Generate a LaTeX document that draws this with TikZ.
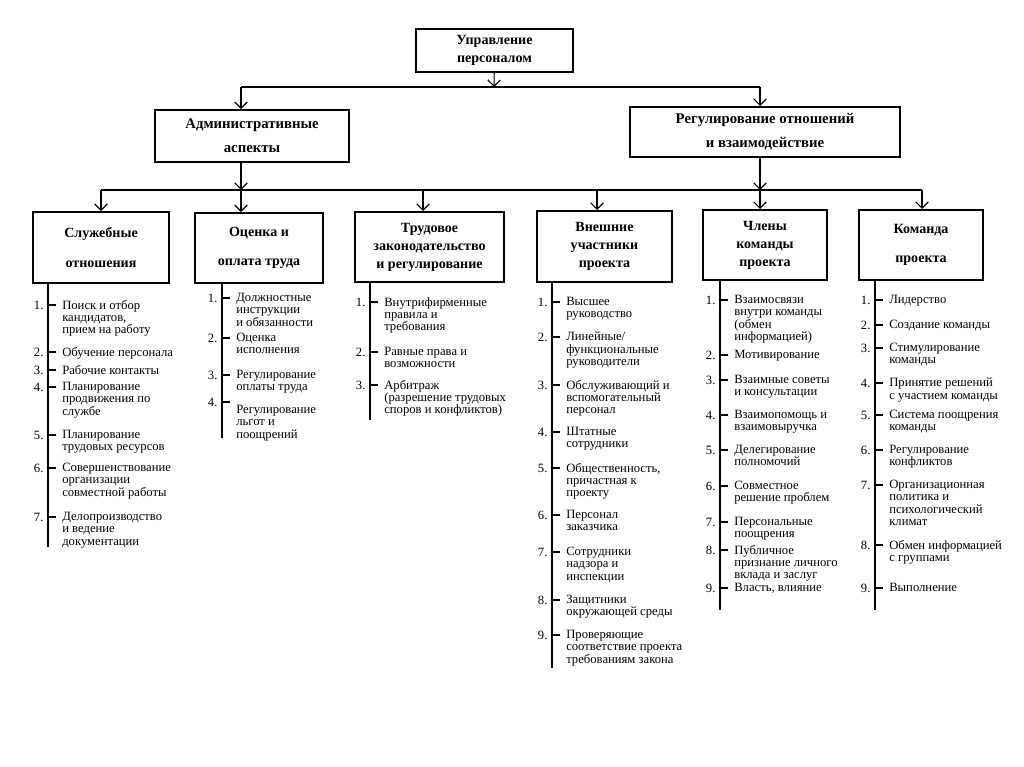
\documentclass[tikz,border=0pt]{standalone}
\usepackage{fontspec}
\setmainfont{Liberation Serif}
\usetikzlibrary{arrows.meta}

\begin{document}
\begin{tikzpicture}
  [x=0.025cm,y=-0.025cm,
   line/.style={line width=0.8pt},
   arr/.style={line,-{Straight Barb[length=4.5pt,width=9pt]}},
   box/.style={draw,line width=1.4pt,align=center,inner sep=0pt,fill=white},
   hdr/.style={box,font=\bfseries\fontsize{10}{12.8}\selectfont},
   hdrtwo/.style={box,font=\bfseries\fontsize{10}{21}\selectfont},
   item/.style={anchor=north west,inner sep=0pt,align=left,font=\fontsize{9}{8.7}\selectfont},
   num/.style={anchor=east,inner sep=0pt,xshift=-0.1cm,font=\fontsize{9}{9}\selectfont}]

  \useasboundingbox (0,0) rectangle (1024,767);

  % upper levels
  \node[hdr,minimum width=3.925cm,minimum height=1.075cm] (top) at (494.5,50.5) {Управление\\персоналом};
  \node[box,font=\bfseries\fontsize{10.5}{17}\selectfont,minimum width=4.85cm,minimum height=1.3cm] (adm) at (252,136) {Административные\\аспекты};
  \node[box,font=\bfseries\fontsize{10.5}{17}\selectfont,minimum width=6.75cm,minimum height=1.25cm] (reg) at (765,132) {Регулирование отношений\\и взаимодействие};

  % lower level boxes
  \node[hdrtwo,minimum width=3.4cm,minimum height=1.775cm] (sl) at (101,247.5) {Служебные\\отношения};
  \node[hdrtwo,minimum width=3.2cm,minimum height=1.75cm] (oc) at (259,248) {Оценка и\\оплата труда};
  \node[hdr,minimum width=3.725cm,minimum height=1.75cm] (tr) at (429.5,247) {Трудовое\\законодательство\\и регулирование};
  \node[hdr,minimum width=3.375cm,minimum height=1.775cm] (vn) at (604.5,246.5) {Внешние\\участники\\проекта};
  \node[hdr,minimum width=3.1cm,minimum height=1.75cm] (ch) at (765,245) {Члены\\команды\\проекта};
  \node[hdrtwo,minimum width=3.1cm,minimum height=1.75cm] (km) at (921,245) {Команда\\проекта};

  % connectors
  \coordinate (j1) at (494,87);
  \coordinate (h1l) at (241,87);
  \coordinate (h1r) at (760,87);
  \draw[arr] (top) -- (j1);
  \draw[line] (h1l) -- (h1r);
  \draw[arr] (h1l) -- (adm.north -| h1l);
  \draw[arr] (h1r) -- (reg.north -| h1r);

  \coordinate (d1) at (101,190);
  \coordinate (d2) at (241,190);
  \coordinate (d3) at (423,190);
  \coordinate (d4) at (597,190);
  \coordinate (d5) at (760,190);
  \coordinate (d6) at (922,190);
  \draw[arr] (adm.south -| d2) -- (d2);
  \draw[arr] (reg.south -| d5) -- (d5);
  \draw[line] (d1) -- (d6);
  \draw[arr] (d1) -- (sl.north -| d1);
  \draw[arr] (d2) -- (oc.north -| d2);
  \draw[arr] (d3) -- (tr.north -| d3);
  \draw[arr] (d4) -- (vn.north -| d4);
  \draw[arr] (d5) -- (ch.north -| d5);
  \draw[arr] (d6) -- (km.north -| d6);

  % column lines
  \coordinate (e1) at (48,547);
  \coordinate (e2) at (222,438);
  \coordinate (e3) at (370,420);
  \coordinate (e4) at (552,668);
  \coordinate (e5) at (720,610);
  \coordinate (e6) at (875,610);
  \draw[line] (sl.south -| e1) -- (e1);
  \draw[line] (oc.south -| e2) -- (e2);
  \draw[line] (tr.south -| e3) -- (e3);
  \draw[line] (vn.south -| e4) -- (e4);
  \draw[line] (ch.south -| e5) -- (e5);
  \draw[line] (km.south -| e6) -- (e6);

  % column 1
  \node[item] (sl1) at (62,300) {Поиск и отбор\\кандидатов,\\прием на работу};
  \draw[line] (sl1.north west) ++(-14,5) node[num] (sl1n) {1.} -- ++(8,0);
  \node[item] (sl2) at (62,347) {Обучение персонала};
  \draw[line] (sl2.north west) ++(-14,5) node[num] (sl2n) {2.} -- ++(8,0);
  \node[item] (sl3) at (62,365) {Рабочие контакты};
  \draw[line] (sl3.north west) ++(-14,5) node[num] (sl3n) {3.} -- ++(8,0);
  \node[item] (sl4) at (62,382) {Планирование\\продвижения по\\службе};
  \draw[line] (sl4.north west) ++(-14,5) node[num] (sl4n) {4.} -- ++(8,0);
  \node[item] (sl5) at (62,430) {Планирование\\трудовых ресурсов};
  \draw[line] (sl5.north west) ++(-14,5) node[num] (sl5n) {5.} -- ++(8,0);
  \node[item] (sl6) at (62,463) {Совершенствование\\организации\\совместной работы};
  \draw[line] (sl6.north west) ++(-14,5) node[num] (sl6n) {6.} -- ++(8,0);
  \node[item] (sl7) at (62,512) {Делопроизводство\\и ведение\\документации};
  \draw[line] (sl7.north west) ++(-14,5) node[num] (sl7n) {7.} -- ++(8,0);

  % column 2
  \node[item] (oc1) at (236,293) {Должностные\\инструкции\\и обязанности};
  \draw[line] (oc1.north west) ++(-14,5) node[num] (oc1n) {1.} -- ++(8,0);
  \node[item] (oc2) at (236,333) {Оценка\\исполнения};
  \draw[line] (oc2.north west) ++(-14,5) node[num] (oc2n) {2.} -- ++(8,0);
  \node[item] (oc3) at (236,370) {Регулирование\\оплаты труда};
  \draw[line] (oc3.north west) ++(-14,5) node[num] (oc3n) {3.} -- ++(8,0);
  \node[item] (oc4) at (236,405) {Регулирование\\льгот и\\поощрений};
  \draw[line] (oc4.north west) ++(-14,-3) node[num] (oc4n) {4.} -- ++(8,0);

  % column 3
  \node[item] (tr1) at (384,297) {Внутрифирменные\\правила и\\требования};
  \draw[line] (tr1.north west) ++(-14,5) node[num] (tr1n) {1.} -- ++(8,0);
  \node[item] (tr2) at (384,347) {Равные права и\\возможности};
  \draw[line] (tr2.north west) ++(-14,5) node[num] (tr2n) {2.} -- ++(8,0);
  \node[item] (tr3) at (384,380) {Арбитраж\\(разрешение трудовых\\споров и конфликтов)};
  \draw[line] (tr3.north west) ++(-14,5) node[num] (tr3n) {3.} -- ++(8,0);

  % column 4
  \node[item] (vn1) at (566,297) {Высшее\\руководство};
  \draw[line] (vn1.north west) ++(-14,5) node[num] (vn1n) {1.} -- ++(8,0);
  \node[item] (vn2) at (566,332) {Линейные/\\функциональные\\руководители};
  \draw[line] (vn2.north west) ++(-14,5) node[num] (vn2n) {2.} -- ++(8,0);
  \node[item] (vn3) at (566,380) {Обслуживающий и\\вспомогательный\\персонал};
  \draw[line] (vn3.north west) ++(-14,5) node[num] (vn3n) {3.} -- ++(8,0);
  \node[item] (vn4) at (566,427) {Штатные\\сотрудники};
  \draw[line] (vn4.north west) ++(-14,5) node[num] (vn4n) {4.} -- ++(8,0);
  \node[item] (vn5) at (566,463) {Общественность,\\причастная к\\проекту};
  \draw[line] (vn5.north west) ++(-14,5) node[num] (vn5n) {5.} -- ++(8,0);
  \node[item] (vn6) at (566,510) {Персонал\\заказчика};
  \draw[line] (vn6.north west) ++(-14,5) node[num] (vn6n) {6.} -- ++(8,0);
  \node[item] (vn7) at (566,547) {Сотрудники\\надзора и\\инспекции};
  \draw[line] (vn7.north west) ++(-14,5) node[num] (vn7n) {7.} -- ++(8,0);
  \node[item] (vn8) at (566,595) {Защитники\\окружающей среды};
  \draw[line] (vn8.north west) ++(-14,5) node[num] (vn8n) {8.} -- ++(8,0);
  \node[item] (vn9) at (566,630) {Проверяющие\\соответствие проекта\\требованиям закона};
  \draw[line] (vn9.north west) ++(-14,5) node[num] (vn9n) {9.} -- ++(8,0);

  % column 5
  \node[item] (ch1) at (734,295) {Взаимосвязи\\внутри команды\\(обмен\\информацией)};
  \draw[line] (ch1.north west) ++(-14,5) node[num] (ch1n) {1.} -- ++(8,0);
  \node[item] (ch2) at (734,350) {Мотивирование};
  \draw[line] (ch2.north west) ++(-14,5) node[num] (ch2n) {2.} -- ++(8,0);
  \node[item] (ch3) at (734,375) {Взаимные советы\\и консультации};
  \draw[line] (ch3.north west) ++(-14,5) node[num] (ch3n) {3.} -- ++(8,0);
  \node[item] (ch4) at (734,410) {Взаимопомощь и\\взаимовыручка};
  \draw[line] (ch4.north west) ++(-14,5) node[num] (ch4n) {4.} -- ++(8,0);
  \node[item] (ch5) at (734,445) {Делегирование\\полномочий};
  \draw[line] (ch5.north west) ++(-14,5) node[num] (ch5n) {5.} -- ++(8,0);
  \node[item] (ch6) at (734,481) {Совместное\\решение проблем};
  \draw[line] (ch6.north west) ++(-14,5) node[num] (ch6n) {6.} -- ++(8,0);
  \node[item] (ch7) at (734,517) {Персональные\\поощрения};
  \draw[line] (ch7.north west) ++(-14,5) node[num] (ch7n) {7.} -- ++(8,0);
  \node[item] (ch8) at (734,545) {Публичное\\признание личного\\вклада и заслуг};
  \draw[line] (ch8.north west) ++(-14,5) node[num] (ch8n) {8.} -- ++(8,0);
  \node[item] (ch9) at (734,583) {Власть, влияние};
  \draw[line] (ch9.north west) ++(-14,5) node[num] (ch9n) {9.} -- ++(8,0);

  % column 6
  \node[item] (km1) at (889,295) {Лидерство};
  \draw[line] (km1.north west) ++(-14,5) node[num] (km1n) {1.} -- ++(8,0);
  \node[item] (km2) at (889,320) {Создание команды};
  \draw[line] (km2.north west) ++(-14,5) node[num] (km2n) {2.} -- ++(8,0);
  \node[item] (km3) at (889,343) {Стимулирование\\команды};
  \draw[line] (km3.north west) ++(-14,5) node[num] (km3n) {3.} -- ++(8,0);
  \node[item] (km4) at (889,378) {Принятие решений\\с участием команды};
  \draw[line] (km4.north west) ++(-14,5) node[num] (km4n) {4.} -- ++(8,0);
  \node[item] (km5) at (889,410) {Система поощрения\\команды};
  \draw[line] (km5.north west) ++(-14,5) node[num] (km5n) {5.} -- ++(8,0);
  \node[item] (km6) at (889,445) {Регулирование\\конфликтов};
  \draw[line] (km6.north west) ++(-14,5) node[num] (km6n) {6.} -- ++(8,0);
  \node[item] (km7) at (889,480) {Организационная\\политика и\\психологический\\климат};
  \draw[line] (km7.north west) ++(-14,5) node[num] (km7n) {7.} -- ++(8,0);
  \node[item] (km8) at (889,540) {Обмен информацией\\с группами};
  \draw[line] (km8.north west) ++(-14,5) node[num] (km8n) {8.} -- ++(8,0);
  \node[item] (km9) at (889,583) {Выполнение};
  \draw[line] (km9.north west) ++(-14,5) node[num] (km9n) {9.} -- ++(8,0);

\end{tikzpicture}
\end{document}
